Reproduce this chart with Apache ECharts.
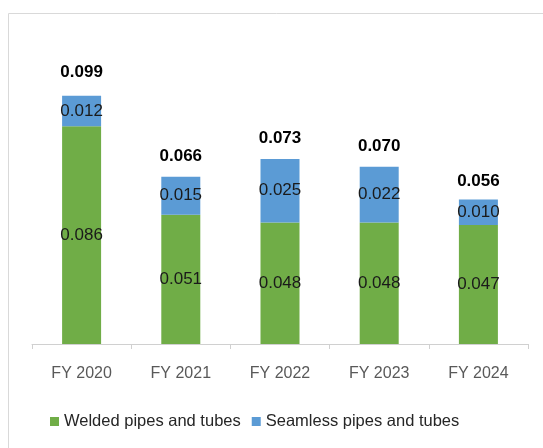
<!DOCTYPE html>
<html>
<head>
<meta charset="utf-8">
<script src="https://cdn.jsdelivr.net/npm/echarts@6/dist/echarts.min.js"></script>
<style>
  html, body { margin: 0; padding: 0; background: #fff; }
  #chart { width: 543px; height: 448px; }
</style>
</head>
<body>
<div id="chart"></div>
<script>
const categories = ['FY 2020', 'FY 2021', 'FY 2022', 'FY 2023', 'FY 2024']
const welded = [0.086, 0.051, 0.048, 0.048, 0.047]
const seamless = [0.012, 0.015, 0.025, 0.022, 0.010]
const totals = [0.099, 0.066, 0.073, 0.070, 0.056]

const fontFamily = "'Liberation Sans', Arial, sans-serif"

let myChart = echarts.init(document.getElementById('chart'))
myChart.setOption({
    animation: false,
    textStyle: { fontFamily: fontFamily },
    graphic: [
        {
            type: 'rect',
            shape: { x: 8.5, y: 13.5, width: 600, height: 500 },
            style: { fill: 'none', stroke: '#d9d9d9', lineWidth: 1 },
            silent: true
        }
    ],
    legend: {
        data: ['Welded pipes and tubes', 'Seamless pipes and tubes'],
        left: 45,
        top: 408,
        icon: 'rect',
        itemWidth: 9,
        itemHeight: 9,
        itemGap: 11,
        textStyle: { fontSize: 16.5, color: '#262626', fontFamily: fontFamily }
    },
    grid: {
        left: 32,
        right: 15,
        top: 40,
        bottom: 104
    },
    xAxis: {
        type: 'category',
        data: categories,
        axisLine: { lineStyle: { color: '#d0d0d0', width: 1 } },
        axisTick: { show: true, length: 5, lineStyle: { color: '#d0d0d0' } },
        axisLabel: { color: '#595959', fontSize: 16, margin: 22 }
    },
    yAxis: {
        type: 'value',
        min: 0,
        max: 0.12,
        show: false,
        splitLine: { show: false }
    },
    series: [
        {
            name: 'Welded pipes and tubes',
            type: 'bar',
            stack: 'total',
            barWidth: 39,
            data: welded,
            itemStyle: { color: '#70AD47' },
            label: {
                show: true,
                position: 'inside',
                color: '#1a1a1a',
                fontSize: 17,
                formatter: p => p.value.toFixed(3)
            }
        },
        {
            name: 'Seamless pipes and tubes',
            type: 'bar',
            stack: 'total',
            barWidth: 39,
            data: seamless,
            itemStyle: { color: '#5B9BD5' },
            label: {
                show: true,
                position: 'inside',
                color: '#1a1a1a',
                fontSize: 17,
                formatter: p => p.value.toFixed(3)
            }
        },
        {
            name: 'Total',
            type: 'bar',
            barWidth: 39,
            barGap: '-100%',
            data: totals,
            itemStyle: { color: 'rgba(0,0,0,0)' },
            silent: true,
            z: 1,
            label: {
                show: true,
                position: 'top',
                distance: 12,
                color: '#000',
                fontSize: 17,
                fontWeight: 'bold',
                formatter: p => p.value.toFixed(3)
            }
        }
    ]
})
window.addEventListener('resize', function() {
    myChart.resize()
})
</script>
</body>
</html>
